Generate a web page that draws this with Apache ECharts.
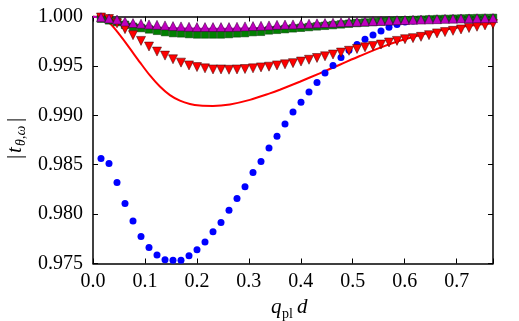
<!DOCTYPE html>
<html>
<head>
<meta charset="utf-8">
<script src="https://cdn.jsdelivr.net/npm/echarts@6/dist/echarts.min.js"></script>
<style>
  html, body { margin: 0; padding: 0; background: #fff; }
  #chart { width: 519px; height: 321px; }
</style>
</head>
<body>
<div id="chart"></div>
<script>
// sampled q_pl d for the markers
const qValues = [
  0.0154, 0.0308, 0.0462, 0.0616, 0.077, 0.0924, 0.1078, 0.1232, 0.1386, 0.154,
  0.1694, 0.1848, 0.2002, 0.2156, 0.231, 0.2464, 0.2618, 0.2772, 0.2926, 0.308,
  0.3234, 0.3388, 0.3542, 0.3696, 0.385, 0.4004, 0.4158, 0.4312, 0.4466, 0.462,
  0.4774, 0.4928, 0.5082, 0.5236, 0.539, 0.5544, 0.5698, 0.5852, 0.6006, 0.616,
  0.6314, 0.6468, 0.6622, 0.6776, 0.693, 0.7084, 0.7238, 0.7392, 0.7546, 0.77
]

const blueCircles = [
  0.98564, 0.98513, 0.98319, 0.98108, 0.97931, 0.97774, 0.97662, 0.97585, 0.97537, 0.97534,
  0.97534, 0.97578, 0.97639, 0.97717, 0.97822, 0.97914, 0.98040, 0.98159, 0.98278, 0.98421,
  0.98533, 0.98669, 0.98788, 0.98912, 0.99033, 0.99131, 0.99237, 0.99332, 0.99427, 0.99505,
  0.99584, 0.99658, 0.99716, 0.99770, 0.99814, 0.99852, 0.99890, 0.99920, 0.99944, 0.99955,
  0.99962, 0.99966, 0.99969, 0.99971, 0.99973, 0.99974, 0.99975, 0.99976, 0.99977, 0.99977
]

const greenSquares = [
  0.99978, 0.99961, 0.99944, 0.99916, 0.99896, 0.99883, 0.99869, 0.99855, 0.99842, 0.99832,
  0.99829, 0.99822, 0.99818, 0.99818, 0.99818, 0.99818, 0.99822, 0.99829, 0.99832, 0.99842,
  0.99845, 0.99859, 0.99865, 0.99872, 0.99880, 0.99886, 0.99893, 0.99900, 0.99906, 0.99913,
  0.99920, 0.99927, 0.99934, 0.99939, 0.99944, 0.99949, 0.99954, 0.99958, 0.99962, 0.99965,
  0.99968, 0.99971, 0.99974, 0.99976, 0.99978, 0.99980, 0.99982, 0.99984, 0.99985, 0.99986
]

const redTriangles = [
  0.99990, 0.99974, 0.99931, 0.99872, 0.99811, 0.99753, 0.99696, 0.99645, 0.99604, 0.99567,
  0.99533, 0.99505, 0.99488, 0.99475, 0.99464, 0.99464, 0.99461, 0.99464, 0.99468, 0.99475,
  0.99485, 0.99492, 0.99505, 0.99516, 0.99528, 0.99544, 0.99562, 0.99580, 0.99597, 0.99615,
  0.99635, 0.99653, 0.99671, 0.99688, 0.99702, 0.99716, 0.99737, 0.99753, 0.99770, 0.99781,
  0.99794, 0.99811, 0.99829, 0.99842, 0.99855, 0.99869, 0.99883, 0.99896, 0.99910, 0.99923
]

const magentaTriangles = [
  0.99992, 0.99980, 0.99969, 0.99949, 0.99934, 0.99927, 0.99920, 0.99916, 0.99910, 0.99903,
  0.99900, 0.99896, 0.99893, 0.99893, 0.99893, 0.99893, 0.99893, 0.99896, 0.99900, 0.99903,
  0.99906, 0.99910, 0.99916, 0.99918, 0.99920, 0.99923, 0.99927, 0.99931, 0.99934, 0.99937,
  0.99941, 0.99944, 0.99947, 0.99950, 0.99953, 0.99956, 0.99959, 0.99962, 0.99964, 0.99967,
  0.99969, 0.99971, 0.99973, 0.99976, 0.99978, 0.99980, 0.99981, 0.99982, 0.99983, 0.99984
]

// solid curves
const lineQ = [
  0, 0.0135, 0.0327, 0.0519, 0.0712, 0.0904, 0.1096, 0.1288, 0.1481, 0.1673,
  0.1865, 0.2058, 0.2308, 0.2635, 0.3019, 0.3404, 0.3596, 0.3981, 0.4365, 0.475,
  0.5135, 0.5519, 0.5904, 0.6288, 0.6673, 0.7058, 0.7442, 0.77
]

const redLine = [
  1.0, 0.99990, 0.99929, 0.99811, 0.99674, 0.99536, 0.99403, 0.99291, 0.99204, 0.99148,
  0.99115, 0.99099, 0.99095, 0.99110, 0.99156, 0.99222, 0.99259, 0.99340, 0.99425, 0.99512,
  0.99600, 0.99683, 0.99754, 0.99811, 0.99857, 0.99892, 0.99918, 0.99931
]

const purpleLine = [
  1.0, 0.99987, 0.99964, 0.99939, 0.99918, 0.99905, 0.99895, 0.99888, 0.99883, 0.99880,
  0.99878, 0.99877, 0.99876, 0.99877, 0.99881, 0.99887, 0.99891, 0.99898, 0.99907, 0.99915,
  0.99923, 0.99932, 0.99939, 0.99946, 0.99952, 0.99958, 0.99963, 0.99966
]

const xTicks = [0, 0.1, 0.2, 0.3, 0.4, 0.5, 0.6, 0.7]
const yTicks = [0.975, 0.98, 0.985, 0.99, 0.995, 1.0]

const serif = '"Liberation Serif", "DejaVu Serif", serif'

const pairs = (xs, ys) => xs.map((x, i) => [x, ys[i]])

const chart = echarts.init(document.getElementById('chart'), null, { renderer: 'canvas' })

function axisX(position, showLabels) {
  return {
    type: 'value',
    position: position,
    min: 0,
    max: 0.77,
    interval: 0.1,
    axisLine: { show: true, onZero: false, lineStyle: { color: '#000', width: 1.5 } },
    axisTick: { show: true, inside: true, length: 5, lineStyle: { color: '#000', width: 1 } },
    splitLine: { show: false },
    axisLabel: {
      show: showLabels,
      color: '#000',
      fontFamily: serif,
      fontSize: 20,
      margin: 8,
      formatter: (v) => xTicks.some((t) => Math.abs(t - v) < 1e-6) ? v.toFixed(1) : ''
    }
  }
}

function axisY(position, showLabels) {
  return {
    type: 'value',
    position: position,
    min: yTicks[0],
    max: yTicks[yTicks.length - 1],
    interval: 0.005,
    axisLine: { show: true, onZero: false, lineStyle: { color: '#000', width: 1.5 } },
    axisTick: { show: true, inside: true, length: 5, lineStyle: { color: '#000', width: 1 } },
    splitLine: { show: false },
    axisLabel: {
      show: showLabels,
      color: '#000',
      fontFamily: serif,
      fontSize: 20,
      margin: 10,
      formatter: (v) => v.toFixed(3)
    }
  }
}

const option = {
  animation: false,
  backgroundColor: '#fff',
  grid: { left: 93, right: 26, top: 16.5, bottom: 57.5 },
  xAxis: [axisX('bottom', true), axisX('top', false)],
  yAxis: [axisY('left', true), axisY('right', false)],
  series: [
    {
      type: 'line',
      data: pairs(lineQ, redLine),
      showSymbol: false,
      symbol: 'none',
      smooth: 0.3,
      lineStyle: { color: '#ff0000', width: 2 },
      z: 1
    },
    {
      type: 'line',
      data: pairs(lineQ, purpleLine),
      showSymbol: false,
      symbol: 'none',
      smooth: 0.2,
      lineStyle: { color: '#bf00bf', width: 2 },
      z: 1
    },
    {
      type: 'scatter',
      data: pairs(qValues, blueCircles),
      symbol: 'circle',
      symbolSize: 7,
      itemStyle: { color: '#0000ff', opacity: 1 },
      z: 2
    },
    {
      type: 'scatter',
      data: pairs(qValues, greenSquares),
      symbol: 'rect',
      symbolSize: 7.5,
      itemStyle: { color: '#008000', borderColor: '#003300', borderWidth: 0.5, opacity: 1 },
      z: 3
    },
    {
      type: 'scatter',
      data: pairs(qValues, redTriangles),
      symbol: 'triangle',
      symbolRotate: 180,
      symbolSize: 9,
      itemStyle: { color: '#ff0000', borderColor: '#330000', borderWidth: 0.5, opacity: 1 },
      z: 4
    },
    {
      type: 'scatter',
      data: pairs(qValues, magentaTriangles),
      symbol: 'triangle',
      symbolSize: 9,
      itemStyle: { color: '#bf00bf', borderColor: '#300030', borderWidth: 0.5, opacity: 1 },
      z: 5
    }
  ],
  graphic: [
    // x-axis name: q_pl d
    { type: 'text', left: 271, top: 297, style: { text: 'q', font: 'italic 21px ' + serif, fill: '#000' } },
    { type: 'text', left: 282, top: 307, style: { text: 'pl', font: '14px ' + serif, fill: '#000' } },
    { type: 'text', left: 297, top: 297, style: { text: 'd', font: 'italic 21px ' + serif, fill: '#000' } },
    // y-axis name: |t_θ,ω|
    {
      type: 'group',
      x: 5,
      y: 159,
      rotation: Math.PI / 2,
      children: [
        { type: 'text', x: 0, y: 0, style: { text: '|', font: '21px ' + serif, fill: '#000' } },
        { type: 'text', x: 6, y: 0, style: { text: 't', font: 'italic 21px ' + serif, fill: '#000' } },
        { type: 'text', x: 13, y: 9, style: { text: 'θ,ω', font: 'italic 14px ' + serif, fill: '#000' } },
        { type: 'text', x: 37, y: 0, style: { text: '|', font: '21px ' + serif, fill: '#000' } }
      ]
    }
  ]
}

chart.setOption(option)
</script>
</body>
</html>
